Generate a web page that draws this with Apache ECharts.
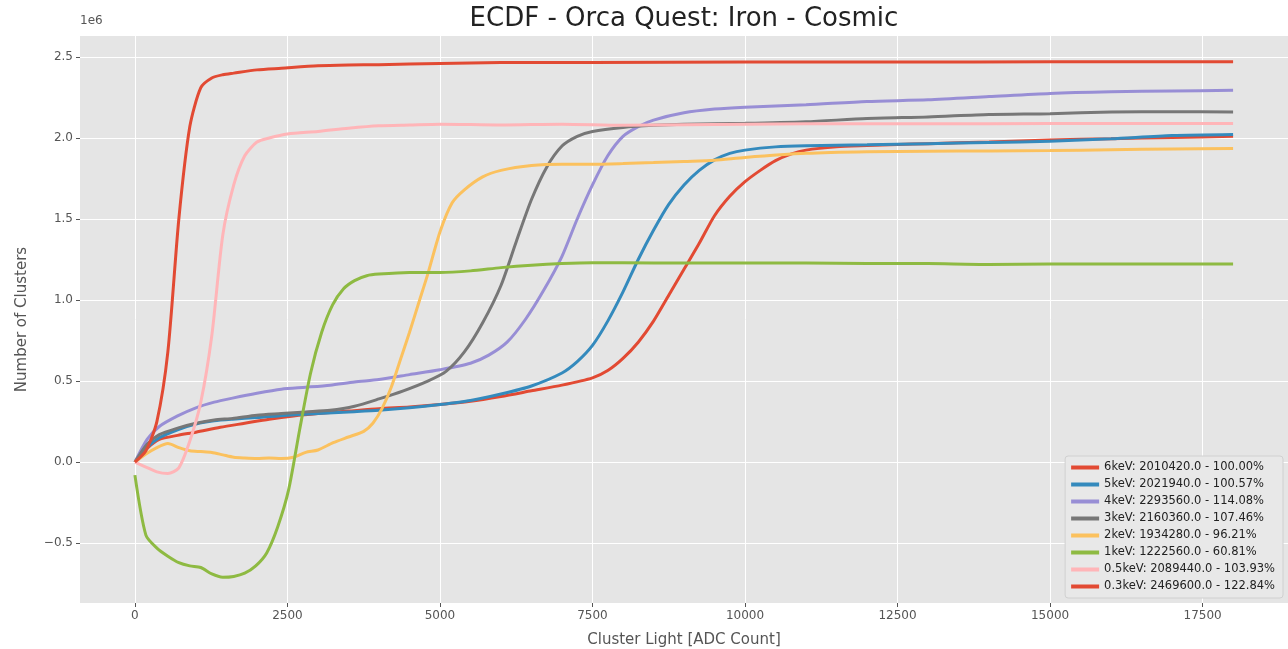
<!DOCTYPE html>
<html>
<head>
<meta charset="utf-8">
<script src="https://cdn.jsdelivr.net/npm/echarts@6/dist/echarts.min.js"></script>
<style>
html,body{margin:0;padding:0;background:#fff;}
#chart{width:1288px;height:649px;}
</style>
</head>
<body>
<div id="chart"></div>
<script>
// ---- tick labels ----
const xTicks = [0, 2500, 5000, 7500, 10000, 12500, 15000, 17500];
const yTicks = [-0.5, 0, 0.5, 1, 1.5, 2, 2.5]; // units of 1e6

// ---- legend labels ----
const labels = [
  '6keV: 2010420.0 - 100.00%',
  '5keV: 2021940.0 - 100.57%',
  '4keV: 2293560.0 - 114.08%',
  '3keV: 2160360.0 - 107.46%',
  '2keV: 1934280.0 - 96.21%',
  '1keV: 1222560.0 - 60.81%',
  '0.5keV: 2089440.0 - 103.93%',
  '0.3keV: 2469600.0 - 122.84%'
];

// ---- series values (x: ADC count, y: clusters in units of 1e6) ----
const x6keV = [0, 200, 400, 700, 1000, 1400, 1800, 2200, 2600, 3000, 3500, 4000, 4500, 5000, 5500, 6000, 6500, 7000, 7500, 7750, 8000, 8250, 8500, 8750, 9000, 9250, 9500, 9750, 10000, 10250, 10500, 10750, 11000, 11500, 12000, 12500, 13000, 14000, 15000, 16000, 17000, 18000];
const y6keV = [0, 0.085, 0.14, 0.165, 0.185, 0.215, 0.24, 0.265, 0.285, 0.30, 0.315, 0.33, 0.34, 0.355, 0.375, 0.405, 0.44, 0.475, 0.52, 0.565, 0.64, 0.74, 0.87, 1.03, 1.19, 1.35, 1.52, 1.64, 1.73, 1.80, 1.86, 1.90, 1.925, 1.945, 1.953, 1.96, 1.965, 1.975, 1.988, 1.995, 2.003, 2.0104];

const x5keV = [0, 200, 400, 700, 1000, 1300, 1600, 2000, 2500, 3000, 3500, 4000, 4500, 5000, 5500, 6000, 6500, 7000, 7250, 7500, 7750, 8000, 8250, 8500, 8750, 9000, 9250, 9500, 9750, 10000, 10500, 11000, 12000, 13000, 14000, 15000, 16000, 17000, 18000];
const y5keV = [0, 0.09, 0.15, 0.20, 0.235, 0.255, 0.265, 0.275, 0.29, 0.30, 0.31, 0.32, 0.335, 0.355, 0.38, 0.42, 0.47, 0.55, 0.62, 0.72, 0.87, 1.05, 1.25, 1.43, 1.59, 1.71, 1.80, 1.865, 1.905, 1.925, 1.945, 1.952, 1.958, 1.965, 1.972, 1.98, 1.995, 2.015, 2.0219];

const x4keV = [0, 200, 400, 700, 1000, 1300, 1600, 2000, 2400, 2800, 3200, 3600, 4000, 4500, 5000, 5500, 5800, 6100, 6400, 6700, 7000, 7250, 7500, 7750, 8000, 8250, 8500, 9000, 9500, 10000, 11000, 12000, 13000, 14000, 15000, 16000, 17000, 18000];
const y4keV = [0, 0.14, 0.22, 0.285, 0.335, 0.37, 0.395, 0.425, 0.45, 0.462, 0.475, 0.495, 0.51, 0.54, 0.57, 0.61, 0.66, 0.74, 0.88, 1.06, 1.27, 1.50, 1.71, 1.89, 2.01, 2.07, 2.11, 2.155, 2.178, 2.19, 2.205, 2.225, 2.235, 2.255, 2.275, 2.285, 2.29, 2.2936];

const x3keV = [0, 200, 400, 700, 1000, 1300, 1600, 2000, 2400, 2800, 3200, 3600, 4000, 4400, 4800, 5100, 5400, 5700, 6000, 6250, 6500, 6750, 7000, 7250, 7500, 8000, 8500, 9000, 10000, 11000, 12000, 13000, 14000, 15000, 16000, 17000, 18000];
const y3keV = [0, 0.11, 0.17, 0.21, 0.24, 0.26, 0.27, 0.29, 0.30, 0.31, 0.32, 0.345, 0.39, 0.44, 0.50, 0.56, 0.68, 0.86, 1.09, 1.36, 1.62, 1.82, 1.95, 2.01, 2.04, 2.065, 2.078, 2.085, 2.09, 2.10, 2.12, 2.13, 2.145, 2.15, 2.16, 2.162, 2.1604];

const x2keV = [0, 180, 360, 540, 720, 900, 1080, 1260, 1440, 1620, 1800, 2000, 2200, 2400, 2600, 2800, 3000, 3250, 3500, 3750, 3900, 4050, 4200, 4350, 4500, 4650, 4800, 5000, 5200, 5400, 5700, 6000, 6500, 7000, 7500, 8000, 8500, 9000, 9500, 10000, 11000, 12000, 13000, 14000, 15000, 16000, 17000, 18000];
const y2keV = [0, 0.05, 0.09, 0.115, 0.09, 0.07, 0.065, 0.06, 0.045, 0.03, 0.025, 0.022, 0.025, 0.022, 0.03, 0.06, 0.075, 0.12, 0.155, 0.19, 0.24, 0.33, 0.46, 0.63, 0.80, 0.98, 1.16, 1.42, 1.60, 1.68, 1.76, 1.80, 1.83, 1.838, 1.838, 1.842, 1.848, 1.855, 1.862, 1.88, 1.905, 1.915, 1.918, 1.92, 1.922, 1.928, 1.932, 1.9343];

const x1keV = [0, 180, 360, 540, 720, 900, 1080, 1260, 1440, 1620, 1800, 1980, 2160, 2340, 2520, 2700, 2880, 3060, 3240, 3420, 3600, 3800, 4000, 4500, 5000, 5500, 6000, 6500, 7000, 7500, 8000, 9000, 10000, 11000, 12000, 13000, 14000, 15000, 16000, 17000, 18000];
const y1keV = [-0.08, -0.45, -0.53, -0.58, -0.62, -0.64, -0.65, -0.69, -0.71, -0.705, -0.685, -0.64, -0.56, -0.40, -0.17, 0.20, 0.55, 0.80, 0.97, 1.07, 1.12, 1.15, 1.16, 1.17, 1.17, 1.18, 1.20, 1.215, 1.225, 1.23, 1.23, 1.228, 1.228, 1.228, 1.226, 1.225, 1.22, 1.222, 1.222, 1.222, 1.2226];

const x05keV = [0, 180, 360, 540, 720, 900, 1080, 1260, 1440, 1620, 1800, 2000, 2200, 2500, 3000, 3500, 4000, 4500, 5000, 6000, 7000, 8000, 10000, 12000, 14000, 16000, 18000];
const y05keV = [0, -0.03, -0.06, -0.07, -0.035, 0.13, 0.37, 0.78, 1.40, 1.71, 1.89, 1.975, 2.0, 2.025, 2.04, 2.06, 2.075, 2.08, 2.085, 2.08, 2.085, 2.078, 2.085, 2.088, 2.088, 2.089, 2.0894];

const x03keV = [0, 180, 360, 540, 720, 900, 1080, 1260, 1440, 1620, 2000, 2400, 3000, 3500, 4000, 5000, 6000, 7500, 10000, 12500, 15000, 18000];
const y03keV = [0, 0.07, 0.25, 0.68, 1.50, 2.07, 2.31, 2.37, 2.39, 2.40, 2.42, 2.43, 2.445, 2.45, 2.452, 2.46, 2.465, 2.466, 2.469, 2.469, 2.4696, 2.4696];

const colors = ['#E24A33', '#348ABD', '#988ED5', '#777777', '#FBC15E', '#8EBA42', '#FFB5B8', '#E24A33'];

const seriesXY = [
  [x6keV, y6keV], [x5keV, y5keV], [x4keV, y4keV], [x3keV, y3keV],
  [x2keV, y2keV], [x1keV, y1keV], [x05keV, y05keV], [x03keV, y03keV]
];

function pairs(xs, ys) { return xs.map((x, i) => [x, ys[i]]); }

const chart = echarts.init(document.getElementById('chart'), null, { renderer: 'canvas' });

const fmtY = v => (v < 0 ? '\u2212' : '') + Math.abs(v).toFixed(1);

chart.setOption({
  animation: false,
  backgroundColor: '#ffffff',
  color: colors,
  title: {
    text: 'ECDF - Orca Quest: Iron - Cosmic',
    left: 684,
    top: 6,
    textAlign: 'center',
    padding: 0,
    textStyle: { fontFamily: 'DejaVu Sans', fontSize: 26, fontWeight: 'normal', color: '#222' }
  },
  graphic: [{
    type: 'text', left: 80, top: 15,
    style: { text: '1e6', fontFamily: 'DejaVu Sans', fontSize: 12, fill: '#555' }
  }],
  grid: { left: 80, right: 0, top: 36, bottom: 46, show: true, backgroundColor: '#E5E5E5', borderWidth: 0, outerBoundsMode: 'none', containLabel: false },
  legend: {
    orient: 'vertical',
    right: 5,
    bottom: 51,
    icon: 'rect',
    itemWidth: 28,
    itemHeight: 4,
    itemGap: 4,
    padding: [5, 8, 5, 6],
    backgroundColor: '#E8E8E8',
    borderColor: '#D0D0D0',
    borderWidth: 1,
    borderRadius: 3,
    textStyle: { fontFamily: 'DejaVu Sans', fontSize: 11.5, lineHeight: 13, color: '#222' },
    data: labels
  },
  xAxis: {
    type: 'value',
    min: -900,
    max: 18900,
    name: 'Cluster Light [ADC Count]',
    nameLocation: 'middle',
    nameGap: 30,
    nameTextStyle: { fontFamily: 'DejaVu Sans', fontSize: 15, color: '#555' },
    axisLine: { show: false, onZero: false },
    axisTick: { show: true, inside: false, length: 4, lineStyle: { color: '#555' }, customValues: xTicks },
    axisLabel: { color: '#555', fontFamily: 'DejaVu Sans', fontSize: 12, margin: 7, customValues: xTicks, formatter: v => String(v) },
    splitLine: { show: true, lineStyle: { color: '#ffffff', width: 1 } }
  },
  yAxis: {
    type: 'value',
    min: -0.869,
    max: 2.629,
    name: 'Number of Clusters',
    nameLocation: 'middle',
    nameRotate: 90,
    nameGap: 50,
    nameTextStyle: { fontFamily: 'DejaVu Sans', fontSize: 15, color: '#555' },
    axisLine: { show: false, onZero: false },
    axisTick: { show: true, inside: false, length: 4, lineStyle: { color: '#555' }, customValues: yTicks },
    axisLabel: { color: '#555', fontFamily: 'DejaVu Sans', fontSize: 12, margin: 7, customValues: yTicks, formatter: fmtY },
    splitLine: { show: true, lineStyle: { color: '#ffffff', width: 1 } }
  },
  series: seriesXY.map((xy, i) => ({
    name: labels[i],
    type: 'line',
    data: pairs(xy[0], xy[1]),
    showSymbol: false,
    smooth: 0.25,
    lineStyle: { width: 3, color: colors[i] },
    itemStyle: { color: colors[i] },
    z: 2 + i
  }))
});
</script>
</body>
</html>
